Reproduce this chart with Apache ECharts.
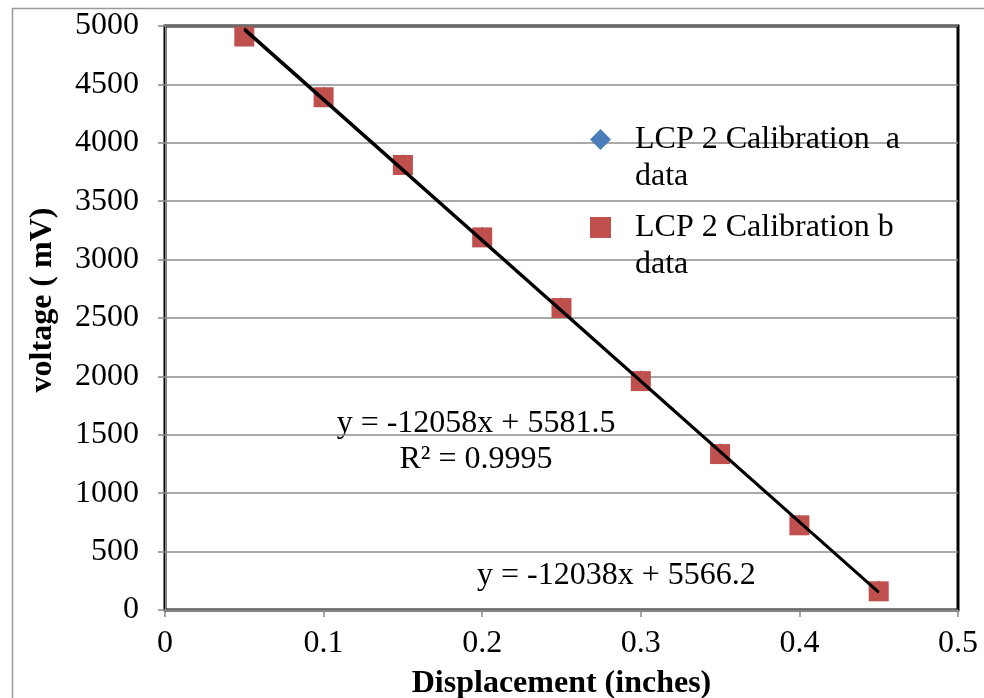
<!DOCTYPE html>
<html>
<head>
<meta charset="utf-8">
<script src="https://cdn.jsdelivr.net/npm/echarts@6/dist/echarts.min.js"></script>
<style>
  html, body { margin: 0; padding: 0; background: #fff; }
  #chart { width: 984px; height: 698px; }
</style>
</head>
<body>
<div id="chart"></div>
<script>
// displacement (inches)
const displacement = [0.05, 0.1, 0.15, 0.2, 0.25, 0.3, 0.35, 0.4, 0.45];
// voltage readings (mV)
const voltageA = [4925, 4405, 3825, 3205, 2600, 1975, 1350, 740, 175];
const voltageB = [4910, 4390, 3810, 3190, 2585, 1960, 1335, 725, 160];
// linear fits shown on the chart
const fitA = { slope: -12058, intercept: 5581.5, r2: 0.9995 };
const fitB = { slope: -12038, intercept: 5566.2 };
const nameA = 'LCP 2 Calibration  a data';
const nameB = 'LCP 2 Calibration b data';

const FONT = '"Liberation Serif", "Times New Roman", serif';

function pairs(xs, ys) {
    return xs.map((x, i) => [x, ys[i]]);
}
function fitLine(fit) {
    const x0 = Math.min(...displacement), x1 = Math.max(...displacement);
    return [[x0, fit.slope * x0 + fit.intercept], [x1, fit.slope * x1 + fit.intercept]];
}

// legend text wraps after the first line; a blank first line keeps the icon on "LCP..."
function legendCfg(name, icon, top) {
    return {
        data: [{ name: name, icon: icon }],
        left: 590,
        top: top,
        padding: 0,
        itemWidth: 21,
        itemHeight: 21,
        selectedMode: false,
        formatter: function (n) {
            return ' \n' + n.replace(/ data$/, '\ndata');
        },
        textStyle: {
            fontFamily: FONT,
            fontSize: 32,
            color: '#000',
            lineHeight: 37,
            padding: [0, 0, 0, 19]
        }
    };
}

const chart = echarts.init(document.getElementById('chart'));
chart.setOption({
    animation: false,
    backgroundColor: '#fff',
    grid: {
        left: 165,
        top: 26,
        right: 26,
        bottom: 88,
        outerBoundsMode: 'none',
        show: true,
        borderColor: '#000',
        borderWidth: 3,
        backgroundColor: 'transparent'
    },
    legend: [
        legendCfg(nameA, 'diamond', 84),
        legendCfg(nameB, 'rect', 172)
    ],
    xAxis: {
        type: 'value',
        min: 0,
        max: 0.5,
        interval: 0.1,
        name: 'Displacement (inches)',
        nameLocation: 'middle',
        nameGap: 58,
        nameTextStyle: { fontFamily: FONT, fontSize: 32, fontWeight: 'bold', color: '#000' },
        axisLine: { show: true, lineStyle: { color: '#888', width: 1 } },
        axisTick: { show: true, length: 7, lineStyle: { color: '#888', width: 1.5 } },
        axisLabel: { fontFamily: FONT, fontSize: 32, color: '#000', margin: 18 },
        splitLine: { show: false }
    },
    yAxis: {
        type: 'value',
        min: 0,
        max: 5000,
        interval: 500,
        name: 'voltage ( mV)',
        nameLocation: 'middle',
        nameGap: 106,
        nameRotate: 90,
        nameTextStyle: {
            fontFamily: FONT, fontSize: 32, fontWeight: 'bold', color: '#000',
            padding: [0, 0, 0, 36]
        },
        axisLine: { show: true, lineStyle: { color: '#888', width: 1 } },
        axisTick: { show: true, length: 7, lineStyle: { color: '#888', width: 1.5 } },
        axisLabel: {
            fontFamily: FONT, fontSize: 32, color: '#000', margin: 26,
            formatter: function (v) { return String(v); }
        },
        splitLine: { show: true, lineStyle: { color: '#8c8c8c', width: 1.5 } }
    },
    graphic: [
        {
            type: 'rect',
            left: 10, top: 6,
            shape: { width: 1000, height: 1000 },
            style: { fill: 'none', stroke: '#9a9a9a', lineWidth: 1.5 },
            z: -1
        },
        {
            type: 'text',
            x: 476, y: 406,
            style: {
                text: 'y = -12058x + 5581.5\nR² = 0.9995',
                fontFamily: FONT, fontSize: 32, fill: '#000',
                align: 'center', lineHeight: 36
            }
        },
        {
            type: 'text',
            x: 477, y: 560,
            style: {
                text: 'y = -12038x + 5566.2',
                fontFamily: FONT, fontSize: 32, fill: '#000'
            }
        }
    ],
    series: [
        {
            name: nameA,
            type: 'scatter',
            symbol: 'diamond',
            symbolSize: 18,
            itemStyle: { color: '#4A7EBB', opacity: 1 },
            data: pairs(displacement, voltageA),
            z: 2
        },
        {
            name: nameB,
            type: 'scatter',
            symbol: 'rect',
            symbolSize: 20,
            itemStyle: { color: '#C0504D', opacity: 1 },
            data: pairs(displacement, voltageB),
            z: 3
        },
        {
            name: 'Linear (a)',
            type: 'line',
            showSymbol: false,
            lineStyle: { color: '#000', width: 2.5 },
            data: fitLine(fitA),
            z: 4
        },
        {
            name: 'Linear (b)',
            type: 'line',
            showSymbol: false,
            lineStyle: { color: '#000', width: 2.5 },
            data: fitLine(fitB),
            z: 4
        }
    ]
});
</script>
</body>
</html>
